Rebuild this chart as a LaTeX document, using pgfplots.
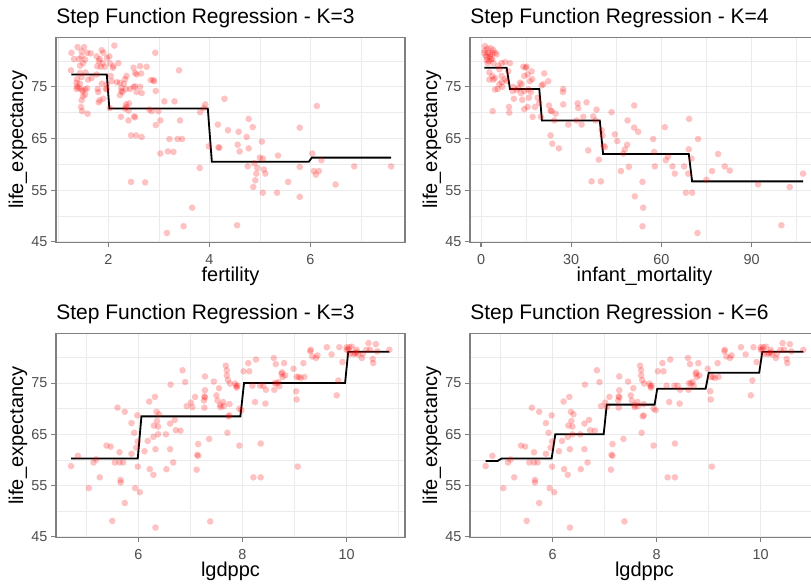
\documentclass[border=0pt]{standalone}
\usepackage{fontspec}
\setmainfont{Liberation Sans}
\usepackage{pgfplots}
\pgfplotsset{compat=1.18}
\usepackage{pgfplotstable}

\definecolor{gridgrey}{HTML}{EBEBEB}
\definecolor{framegrey}{HTML}{7F7F7F}
\definecolor{ticktext}{HTML}{4D4D4D}

% life expectancy against fertility
\pgfplotstableread{
x y
1.27 81.6
1.39 82.7
1.52 82.7
1.47 81.9
1.32 80.4
1.42 80.4
1.58 81.6
1.65 81.5
1.77 80.9
1.83 80.4
1.87 82.1
1.90 81.6
1.97 80.6
1.89 79.6
1.81 80.0
1.78 79.0
1.85 78.9
1.93 78.9
2.02 80.9
2.12 83.0
2.03 79.6
2.09 78.7
2.20 79.6
2.10 79.0
1.47 80.9
1.50 79.6
1.44 79.1
1.54 80.3
1.26 78.2
1.44 77.7
1.55 77.8
1.38 76.5
1.47 76.9
1.60 76.4
1.67 76.7
1.77 77.4
1.37 75.8
1.44 75.6
1.38 75.1
1.41 74.8
1.47 74.5
1.54 74.5
1.58 74.7
1.37 74.6
1.49 74.2
1.54 73.5
1.50 73.2
1.47 72.4
1.46 71.1
1.48 70.3
1.59 69.8
1.79 74.6
1.80 74.0
1.81 72.0
1.83 72.4
1.90 72.7
1.95 74.6
1.97 75.5
1.87 75.6
2.05 77.1
2.07 76.1
2.17 75.9
2.23 75.8
2.26 74.8
2.31 75.6
2.33 76.5
2.36 77.1
2.26 74.2
2.23 73.4
2.28 74.0
2.35 74.6
2.43 74.6
2.50 75.0
2.53 75.1
2.56 74.0
2.35 71.6
2.41 71.8
2.33 70.8
2.40 70.4
2.25 69.2
2.36 71.1
1.97 74.6
2.03 70.9
2.53 77.7
2.50 78.7
2.63 79.0
2.56 77.4
2.65 77.6
2.76 78.9
2.84 76.3
2.89 76.3
2.93 81.6
2.91 76.1
2.94 74.2
2.66 73.8
2.63 75.0
2.81 70.6
2.86 70.3
2.99 70.3
2.51 69.3
2.53 69.1
2.40 68.5
2.45 65.6
2.55 65.6
2.66 65.3
3.40 78.2
3.11 72.2
3.31 72.2
3.03 68.5
2.94 67.6
3.42 68.5
3.46 64.9
3.21 64.9
3.37 64.9
3.18 62.5
3.03 62.1
3.29 62.4
3.82 70.1
3.89 70.9
3.92 71.6
3.81 59.3
3.99 63.5
4.17 67.7
4.20 63.2
4.18 63.3
4.30 72.7
4.37 66.6
4.58 66.3
4.56 63.8
4.60 62.5
4.74 65.3
4.78 68.8
4.86 67.2
4.78 63.1
4.76 59.6
4.89 60.2
4.95 59.3
4.93 58.2
4.91 56.9
4.87 55.6
5.04 64.4
5.00 61.3
5.06 61.1
5.08 59.0
5.11 58.2
5.06 54.5
5.36 61.7
5.34 54.5
5.56 56.6
5.79 67.1
5.79 59.5
5.79 53.7
6.04 62.1
6.13 71.3
6.07 58.7
6.11 58.0
6.17 58.7
6.22 60.8
6.50 56.1
6.87 59.6
7.60 59.6
3.66 51.6
3.49 48.0
3.16 46.7
4.55 48.2
2.45 56.6
2.73 56.5
}\fertdata

% life expectancy against infant mortality
\pgfplotstableread{
x y
1.33 82.9
2.21 82.4
3.32 82.5
1.11 81.6
2.44 81.6
3.77 81.5
1.88 80.8
2.99 80.8
1.88 80.2
2.66 80.0
3.77 80.4
1.33 82.1
4.10 82.1
4.65 81.6
5.20 81.3
2.21 79.6
4.10 79.6
2.99 81.3
1.55 81.1
3.32 80.4
2.77 77.8
3.77 77.1
4.65 76.7
5.76 79.1
6.87 79.6
7.97 79.8
9.63 79.6
6.09 78.4
7.97 76.5
8.53 76.1
6.87 75.9
6.09 75.5
7.09 75.0
4.65 74.5
5.54 74.6
4.10 76.4
2.77 76.4
6.87 77.1
9.08 78.0
10.74 75.0
10.52 74.2
10.96 72.7
9.30 71.1
9.41 70.0
3.88 70.3
11.85 74.4
12.40 74.8
12.96 75.8
13.51 75.5
14.06 78.9
14.84 78.7
14.40 77.1
15.17 78.9
15.50 77.4
15.73 74.5
14.40 74.2
13.29 73.8
13.73 72.5
14.40 70.7
16.83 78.0
16.28 76.1
17.05 76.5
16.61 74.0
15.95 72.9
15.50 71.1
17.16 69.2
17.94 71.1
18.83 72.9
20.15 75.3
20.71 75.5
19.38 71.9
19.93 69.2
21.04 77.6
22.37 76.1
22.59 71.4
23.15 70.4
23.48 70.3
24.36 68.5
24.81 69.8
23.15 65.6
23.70 64.0
25.91 63.1
27.35 74.6
27.24 74.0
27.35 71.6
29.01 67.7
32.12 71.8
32.34 70.9
31.78 68.5
33.44 67.7
35.10 72.0
35.66 62.7
34.00 69.2
37.32 69.3
38.43 70.6
38.10 68.5
36.77 56.7
39.87 56.7
39.20 60.9
40.09 66.6
40.42 65.6
40.75 63.6
41.20 63.3
43.41 70.1
44.52 65.8
45.29 64.5
46.51 58.7
47.29 62.1
47.84 62.9
48.62 63.8
48.73 68.5
49.17 59.5
50.94 71.4
50.94 67.1
52.27 66.3
51.16 53.8
53.71 56.6
53.93 51.6
53.71 48.0
57.25 64.9
57.59 62.4
57.81 59.6
61.13 67.2
61.46 60.8
62.24 61.5
63.68 59.6
64.45 58.2
67.55 59.6
68.11 54.5
68.88 58.2
69.10 62.9
69.21 68.8
69.99 61.1
70.21 54.5
72.20 64.9
71.98 46.7
74.97 57.0
76.85 58.7
78.85 62.0
81.06 59.6
82.72 58.8
92.14 56.1
99.89 48.2
102.66 55.6
107.09 58.2
}\infdata

% life expectancy against log GDP per capita
\pgfplotstableread{
x y
4.71 58.8
4.84 60.8
5.05 54.5
5.14 59.5
5.19 60.1
5.26 56.6
5.39 62.8
5.47 62.6
5.50 48.1
5.66 55.6
5.66 56.1
5.64 61.5
5.55 59.5
5.64 59.5
5.71 59.5
5.74 51.6
5.60 70.2
5.74 69.4
5.87 67.2
5.92 65.3
5.87 61.2
5.94 54.5
5.96 62.4
5.98 68.7
5.99 63.6
5.99 58.7
6.03 53.7
6.12 61.7
6.18 63.7
6.21 71.4
6.22 58.2
6.29 57.1
6.29 64.5
6.30 66.7
6.32 72.3
6.33 62.1
6.35 69.4
6.36 67.6
6.38 66.5
6.38 65.0
6.40 68.9
6.33 46.8
6.53 65.0
6.54 58.2
6.61 67.1
6.61 62.1
6.62 74.7
6.67 59.5
6.70 67.8
6.72 65.8
6.81 65.7
6.85 77.5
6.90 75.2
6.93 70.5
7.01 71.2
7.04 70.3
7.09 72.3
7.12 58.1
7.13 61.0
7.15 63.1
7.15 60.8
7.27 70.2
7.28 76.3
7.28 73.6
7.27 72.4
7.28 72.2
7.26 71.6
7.36 64.1
7.38 48.0
7.45 75.3
7.50 72.6
7.52 71.6
7.55 74.0
7.57 70.7
7.58 70.3
7.63 71.3
7.64 70.5
7.70 76.5
7.68 78.4
7.70 77.5
7.72 75.6
7.71 65.3
7.73 68.5
7.75 68.7
7.75 70.9
7.76 74.9
7.86 74.9
7.88 74.4
7.89 74.1
7.90 74.5
7.94 70.0
7.94 62.8
7.98 69.7
8.02 77.3
8.11 78.9
8.13 77.3
8.21 56.6
8.19 74.5
8.24 71.3
8.26 79.6
8.34 74.5
8.35 63.2
8.35 56.6
8.40 74.5
8.45 73.7
8.44 71.0
8.60 79.9
8.61 73.7
8.62 75.0
8.64 78.7
8.66 74.9
8.69 75.2
8.71 74.4
8.75 76.8
8.76 77.1
8.77 76.2
8.80 78.9
8.82 76.5
8.98 77.8
9.03 73.4
9.04 76.2
9.04 71.8
9.06 58.7
9.08 76.2
9.12 76.0
9.17 78.9
9.19 76.2
9.30 81.2
9.31 81.5
9.34 80.2
9.41 79.9
9.44 80.4
9.62 82.0
9.71 80.6
9.81 72.6
9.84 75.5
9.86 82.0
9.92 79.1
10.00 81.5
10.03 81.5
10.05 82.0
10.10 82.1
10.13 80.7
10.16 80.8
10.22 80.6
10.19 81.5
10.29 79.9
10.31 80.7
10.38 81.5
10.42 82.8
10.45 81.5
10.50 79.7
10.51 78.9
10.56 82.6
10.59 81.2
10.82 81.5
10.00 82.0
10.19 81.0
10.06 80.7
}\gdpdata

\pgfplotsset{
  steppanel/.style={
    scale only axis, width=174.5pt, height=102.5pt,
    anchor=south west,
    ymin=44.9, ymax=84.6,
    ytick={45,55,65,75}, minor ytick={50,60,70,80},
    grid=both,
    major grid style={gridgrey, line width=0.45pt},
    minor grid style={gridgrey, line width=0.25pt},
    minor tick length=0pt,
    major tick length=2.5pt,
    tick align=outside,
    tick pos=left,
    axis line style={framegrey, line width=0.55pt},
    every tick/.style={framegrey, line width=0.55pt},
    tick label style={font=\fontsize{7.2pt}{8pt}\selectfont, text=ticktext},
    yticklabel style={inner sep=0pt, xshift=-1.6pt},
    /pgf/number format/assume math mode=true,
    ylabel={life\_expectancy},
    label style={font=\fontsize{9pt}{10pt}\selectfont},
    every axis title/.style={at={(rel axis cs:0,1)}, anchor=base west,
      yshift=7pt, inner sep=0pt, font=\fontsize{10.5pt}{12pt}\selectfont},
    every axis y label/.style={at={(rel axis cs:0,0.5)}, xshift=-19pt, rotate=90, anchor=center},
    every axis x label/.style={at={(rel axis cs:0.5,0)}, yshift=-19.5pt, anchor=base},
  },
  pts/.style={only marks, mark=*, mark size=1.65pt, color=red,
    mark options={draw=red, draw opacity=0, fill=red, fill opacity=0.24}},
  fit/.style={no marks, black, line width=0.9pt},
}

\begin{document}
\begin{tikzpicture}
\useasboundingbox (0,0) rectangle (405.5pt,292.5pt);
\clip (0,0) rectangle (405.5pt,292.5pt);

% fertility, three cuts
\begin{axis}[steppanel, at={(28pt,171.35pt)},
  xmin=0.964, xmax=7.875, xtick={2,4,6}, minor xtick={1,3,5,7},
  title={Step Function Regression - K=3}, xlabel={fertility}]
  \addplot[pts] table {\fertdata};
  \addplot[fit] coordinates {(1.27,77.4) (1.97,77.4) (2.02,70.8) (3.97,70.8)
    (4.05,60.5) (5.97,60.5) (6.03,61.3) (7.60,61.3)};
\end{axis}

% infant mortality, four cuts
\begin{axis}[steppanel, at={(235pt,171.35pt)},
  xmin=-3.66, xmax=112.4, xtick={0,30,60,90}, minor xtick={15,45,75,105},
  title={Step Function Regression - K=4}, xlabel={infant\_mortality}]
  \addplot[pts] table {\infdata};
  \addplot[fit] coordinates {(1.11,78.7) (8.53,78.7) (9.63,74.6) (19.38,74.6)
    (20.26,68.5) (39.5,68.5) (40.6,62.0) (69.1,62.0) (70.2,56.7) (107.09,56.7)};
\end{axis}

% log GDP per capita, three cuts
\begin{axis}[steppanel, at={(28pt,23.85pt)}, height=101.7pt,
  xmin=4.42, xmax=11.12, xtick={6,8,10}, minor xtick={5,7,9,11},
  title={Step Function Regression - K=3}, xlabel={lgdppc}]
  \addplot[pts] table {\gdpdata};
  \addplot[fit] coordinates {(4.71,60.3) (5.99,60.3) (6.06,68.5) (7.96,68.5)
    (8.03,75.0) (9.97,75.0) (10.03,81.1) (10.82,81.1)};
\end{axis}

% log GDP per capita, six cuts
\begin{axis}[steppanel, at={(235pt,23.85pt)}, height=101.7pt,
  xmin=4.41, xmax=11.12, xtick={6,8,10}, minor xtick={5,7,9,11},
  title={Step Function Regression - K=6}, xlabel={lgdppc}]
  \addplot[pts] table {\gdpdata};
  \addplot[fit] coordinates {(4.71,59.8) (4.94,59.8) (5.02,60.3) (5.98,60.3)
    (6.05,65.0) (6.98,65.0) (7.04,70.8) (7.96,70.8) (8.01,73.9) (8.94,73.9)
    (9.00,77.0) (9.97,77.0) (10.03,81.1) (10.82,81.1)};
\end{axis}
\end{tikzpicture}
\end{document}
